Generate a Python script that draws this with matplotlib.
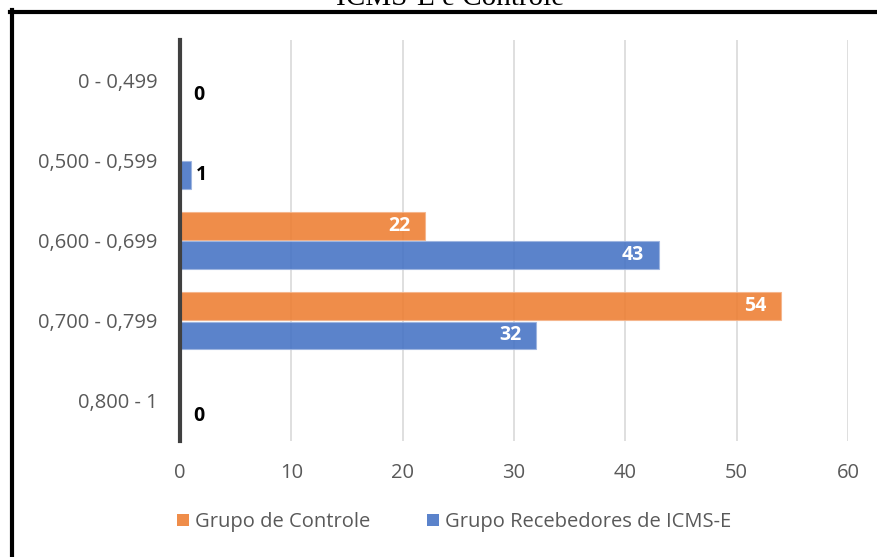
import matplotlib.pyplot as plt
import numpy as np
from matplotlib.lines import Line2D
from matplotlib.patches import Patch

# Dados
faixas = ['0 - 0,499', '0,500 - 0,599', '0,600 - 0,699', '0,700 - 0,799', '0,800 - 1']
controle = [np.nan, np.nan, 22, 54, np.nan]
recebedores = [0, 1, 43, 32, 0]

cor_controle = '#ED7D31'
cor_receb = '#4472C4'
cinza = '#595959'
fonte = 'Open Sans'

W, H = 877, 557
fig = plt.figure(figsize=(W / 100, H / 100), dpi=100)
ax = fig.add_axes([180 / W, 1 - 441 / H, (848 - 180) / W, (441 - 40) / H])

y = np.arange(len(faixas))
h = 0.345
ax.barh(y - h / 2 - 0.012, controle, height=h, color=cor_controle, alpha=0.88,
        edgecolor='#f5b48a', linewidth=0.8, zorder=2)
ax.barh(y + h / 2 + 0.012, recebedores, height=h, color=cor_receb, alpha=0.88,
        edgecolor='#9db4e0', linewidth=0.8, zorder=2)

# rótulos de valor
for i, v in enumerate(controle):
    if not np.isnan(v):
        ax.text(v - 1.3, y[i] - h / 2 - 0.012, f'{v:g}', ha='right', va='center',
                color='white', fontsize=14, fontweight='bold', family=fonte, zorder=3)
for i, v in enumerate(recebedores):
    if v > 5:
        ax.text(v - 1.3, y[i] + h / 2 + 0.012, f'{v:g}', ha='right', va='center',
                color='white', fontsize=14, fontweight='bold', family=fonte, zorder=3)
    else:
        off = 1.2 if v == 0 else 0.45
        ax.text(v + off, y[i] + h / 2 + 0.012, f'{v:g}', ha='left', va='center',
                color='black', fontsize=14, fontweight='bold', family=fonte, zorder=3)

ax.set_xlim(0, 60)
ax.set_ylim(len(faixas) - 0.5, -0.5)
ax.set_xticks(range(0, 61, 10))
ax.set_yticks(y)
ax.set_yticklabels(faixas)
ax.grid(axis='x', color='#d9d9d9', linewidth=1.2, zorder=0)
for s in ['top', 'right', 'bottom']:
    ax.spines[s].set_visible(False)
ax.spines['left'].set_color('#404040')
ax.spines['left'].set_linewidth(3)
ax.spines['left'].set_zorder(4)
ax.tick_params(axis='both', length=0, labelsize=14.5, labelcolor=cinza)
ax.tick_params(axis='x', pad=16)
ax.tick_params(axis='y', pad=16)
for lab in ax.get_xticklabels() + ax.get_yticklabels():
    lab.set_family(fonte)

# legenda
handles = [Patch(facecolor=cor_controle, alpha=0.88), Patch(facecolor=cor_receb, alpha=0.88)]
fig.legend(handles, ['Grupo de Controle', 'Grupo Recebedores de ICMS-E'],
           loc='center', bbox_to_anchor=(454 / W, 1 - 522 / H), ncol=2, frameon=False,
           handlelength=0.6, handleheight=0.6, handletextpad=0.3, columnspacing=2.8,
           prop={'family': fonte, 'size': 14.5}, labelcolor=cinza)

# moldura e título
fig.add_artist(Line2D([11.5 / W, 11.5 / W], [0, 1 - 10 / H], color='black', linewidth=3,
                      transform=fig.transFigure))
fig.add_artist(Line2D([10 / W, 1], [1 - 11.5 / H, 1 - 11.5 / H], color='black', linewidth=3,
                      transform=fig.transFigure))
fig.text(450 / W, 1 - 5 / H, 'ICMS-E e Controle', ha='center', va='baseline',
         family='Liberation Serif', fontsize=21, color='black')

fig.savefig('out.png', dpi=100)
